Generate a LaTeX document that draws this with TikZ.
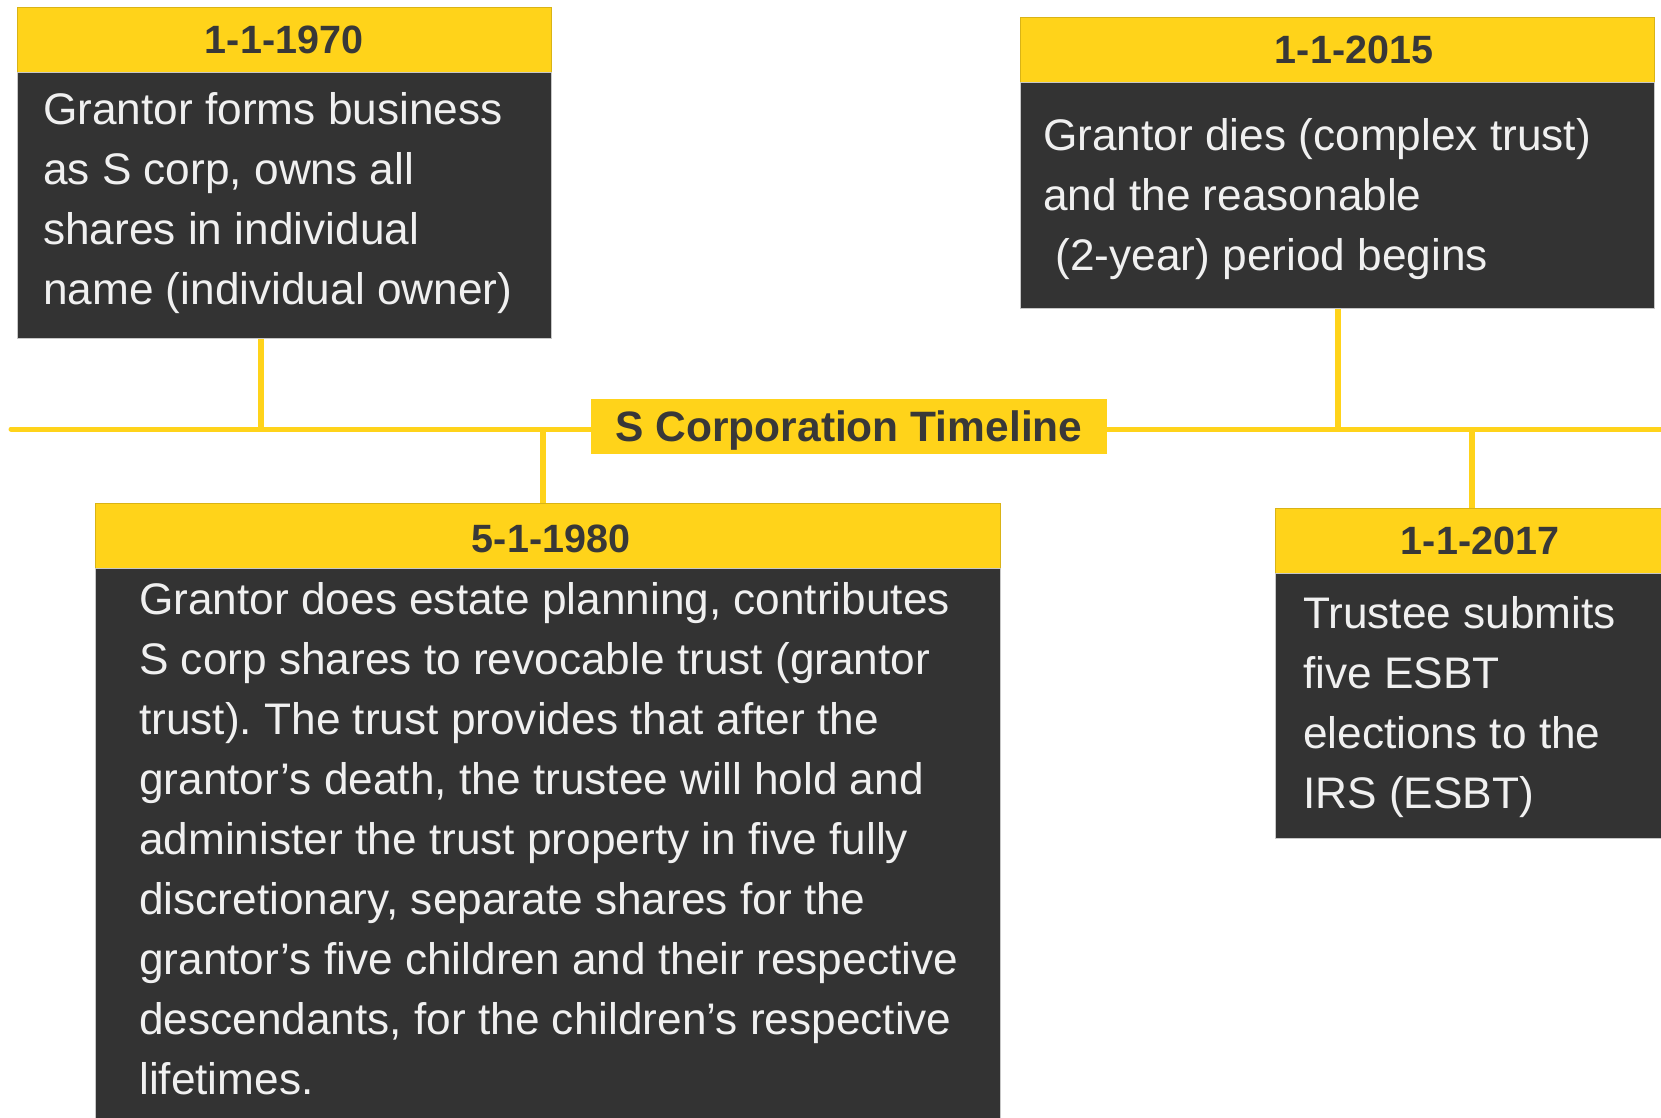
\documentclass[tikz,border=0pt]{standalone}
\usepackage{fontspec}
\setmainfont{Liberation Sans}
\frenchspacing
\definecolor{tlyellow}{HTML}{FFD31A}
\definecolor{tldark}{HTML}{333333}
\definecolor{tltext}{HTML}{383838}
\begin{document}
\begin{tikzpicture}[x=1pt,y=-1pt,
  hdr/.style={draw=tlyellow!85!black, line width=0.8pt, fill=tlyellow, inner sep=0pt, anchor=north west},
  panel/.style={draw=black!22, line width=1pt, fill=tldark, inner sep=0pt, anchor=north west},
  datelbl/.style={font=\fontsize{39.5}{44}\selectfont\bfseries, text=tltext, inner sep=0pt},
  bodyline/.style={font=\fontsize{44.2}{52}\selectfont, text=white!94!black, inner sep=0pt, anchor=base west},
  rail/.style={draw=tlyellow, line width=5pt},
  stem/.style={draw=tlyellow, line width=6pt}]

% page frame
\path[use as bounding box] (0,0) rectangle (1661,1117);
\clip (0,0) rectangle (1661,1117);
\fill[white] (0,0) rectangle (1661,1117);

% title on the timeline
\node[fill=tlyellow, minimum width=516pt, minimum height=55pt, inner sep=0pt,
      text height=31pt, text depth=0pt,
      font=\fontsize{42.5}{48}\selectfont\bfseries, text=tltext] (title) at (849,426) {S Corporation Timeline};

% timeline ends and junctions
\coordinate (tlL) at (11,429);
\coordinate (tlR) at (1700,429);
\coordinate (j1) at (261,429);
\coordinate (j2) at (543,429);
\coordinate (j3) at (1338,429);
\coordinate (j4) at (1472,429);

\draw[rail, line cap=round] (tlL) -- (title.west |- tlL);
\draw[rail] (title.east |- tlR) -- (tlR);

% event boxes: header strip + dark panel
\node[hdr, minimum width=534pt, minimum height=65pt] (h1) at (17,7) {};
\node[panel, minimum width=534pt, minimum height=266pt] (p1) at (17,72) {};

\node[hdr, minimum width=905pt, minimum height=65pt] (h2) at (95,503) {};
\node[panel, minimum width=905pt, minimum height=600pt] (p2) at (95,568) {};

\node[hdr, minimum width=634pt, minimum height=65pt] (h3) at (1020,17) {};
\node[panel, minimum width=634pt, minimum height=226pt] (p3) at (1020,82) {};

\node[hdr, minimum width=450pt, minimum height=65pt] (h4) at (1275,508) {};
\node[panel, minimum width=450pt, minimum height=265pt] (p4) at (1275,573) {};

% stems joining boxes to the timeline
\draw[stem] (j1) -- (j1 |- p1.south);
\draw[stem] (j2) -- (j2 |- h2.north);
\draw[stem] (j3) -- (j3 |- p3.south);
\draw[stem] (j4) -- (j4 |- h4.north);

% dates
\node[datelbl] (d1) at (284,40) {1-1-1970};
\node[datelbl] (d2) at (551,539) {5-1-1980};
\node[datelbl] (d3) at (1354,50) {1-1-2015};
\node[datelbl] (d4) at (1480,541) {1-1-2017};

% descriptions
\foreach \t [count=\k] in {{Grantor forms business},{as S corp, owns all},{shares in individual},{name (individual owner)}}
  \node[bodyline] (t1-\k) at (43,{64+60*\k}) {\t};

\foreach \t [count=\k] in {{Grantor does estate planning, contributes},
  {S corp shares to revocable trust (grantor},
  {trust). The trust provides that after the},
  {grantor’s death, the trustee will hold and},
  {administer the trust property in five fully},
  {discretionary, separate shares for the},
  {grantor’s five children and their respective},
  {descendants, for the children’s respective},
  {lifetimes.}}
  \node[bodyline] (t2-\k) at (139,{554+60*\k}) {\t};

\foreach \t [count=\k] in {{Grantor dies (complex trust)},{and the reasonable},{\ (2-year) period begins}}
  \node[bodyline] (t3-\k) at (1043,{90+60*\k}) {\t};

\foreach \t [count=\k] in {{Trustee submits},{five ESBT},{elections to the},{IRS (ESBT)}}
  \node[bodyline] (t4-\k) at (1303,{568+60*\k}) {\t};

\end{tikzpicture}
\end{document}
